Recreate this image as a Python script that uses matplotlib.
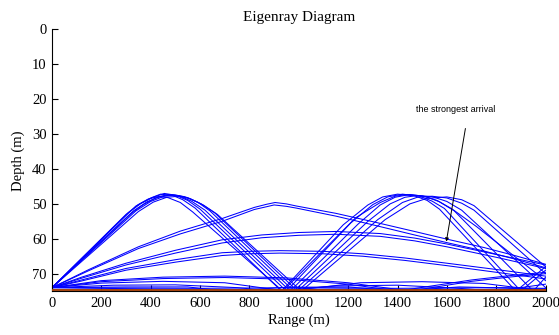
import matplotlib
matplotlib.use("Agg")
import matplotlib.pyplot as plt

# ---------------- data (range m, depth m) ----------------
title_text = "Eigenray Diagram"
x_label = "Range (m)"
y_label = "Depth (m)"
x_ticks = [0, 200, 400, 600, 800, 1000, 1200, 1400, 1600, 1800, 2000]
y_ticks = [0, 10, 20, 30, 40, 50, 60, 70]
bottom_depth = 75
max_range = 2000

# steep double-hill eigenrays (turning near 47-48 m, one bottom bounce near 1000 m)
ray_A1 = [(0, 74), (300, 53), (350, 50.2), (400, 48.3), (440, 47.2), (490, 47.6), (530, 48.8), (580, 51.2),
          (930, 75), (1180, 56), (1280, 50.3), (1340, 48), (1400, 47.2), (1470, 47.7), (1520, 49),
          (1570, 51.5), (1880, 75), (2000, 68)]
ray_A2 = [(0, 74), (310, 52.5), (360, 49.9), (410, 48.1), (455, 47.0), (500, 47.5), (550, 49), (600, 51.5),
          (950, 75), (1210, 55.5), (1300, 50.2), (1360, 48), (1420, 47.2), (1490, 47.8), (1540, 49.2),
          (1590, 51.3), (1900, 75), (2000, 69)]
ray_A3 = [(0, 74), (320, 52.8), (370, 50.2), (420, 48.3), (470, 47.3), (515, 47.7), (565, 49.2), (620, 51.8),
          (965, 75), (1240, 55.8), (1330, 50.3), (1390, 48.1), (1450, 47.3), (1515, 47.9), (1570, 49.4),
          (1630, 52), (1950, 75), (2000, 71)]
ray_A4 = [(0, 74), (330, 52), (385, 49.4), (440, 47.8), (490, 47.4), (535, 47.9), (590, 49.5), (640, 52),
          (980, 75), (1280, 55), (1370, 50), (1430, 48.1), (1480, 47.6), (1540, 47.9), (1600, 49.3),
          (1660, 51.8), (2000, 74)]
ray_A5 = [(0, 74), (340, 52), (400, 49.3), (455, 47.8), (505, 47.5), (550, 48.2), (605, 50), (660, 52.6),
          (995, 75), (1320, 54.5), (1420, 49.6), (1480, 48.1), (1540, 47.8), (1600, 48.3), (1660, 49.8),
          (1710, 51.8), (2000, 70)]
ray_A6 = [(0, 74), (350, 52.2), (410, 49.5), (465, 48.1), (515, 47.8), (560, 48.5), (615, 50.4), (670, 53),
          (1010, 75), (1350, 54.5), (1450, 50), (1520, 48.4), (1600, 48), (1660, 48.8), (1710, 50.5),
          (2000, 68)]
ray_A7 = [(0, 74), (290, 54), (340, 50.6), (390, 48.6), (430, 47.9), (470, 48.2), (520, 49.6), (570, 52.3),
          (935, 75), (1230, 54), (1330, 49.6), (1390, 47.8), (1440, 47.3), (1500, 47.7), (1560, 49),
          (1620, 51.4), (1720, 56.5), (2000, 72)]

# flatter single-arc eigenrays
ray_B1a = [(0, 74), (150, 68.8), (350, 62.3), (520, 57.8), (689, 54.2), (820, 51), (870, 50.1), (904, 49.6),
           (950, 50), (990, 50.6), (1150, 52.7), (1300, 55.1), (1463, 57.8), (1600, 60.1), (1750, 62.5),
           (1880, 64.9), (2000, 67.3)]
ray_B1b = [(0, 74), (150, 69.1), (350, 62.8), (520, 58.6), (689, 55), (820, 51.6), (870, 50.8), (900, 50.3),
           (950, 50.7), (990, 51.2), (1150, 53.5), (1300, 56), (1463, 58.8), (1600, 61.1), (1750, 63.5),
           (1880, 65.9), (2000, 68.3)]
ray_B2a = [(0, 74), (120, 71), (300, 67), (500, 63.3), (689, 60.3), (850, 58.9), (1000, 58.2), (1150, 57.9),
           (1330, 58.5), (1470, 59.8), (1600, 61.5), (1800, 64.5), (2000, 67.5)]
ray_B2b = [(0, 74), (120, 71.3), (300, 67.5), (500, 64.1), (689, 61.2), (850, 59.7), (1000, 59), (1150, 58.7),
           (1330, 59.3), (1470, 60.6), (1600, 62.3), (1800, 65.3), (2000, 68.5)]
ray_B3a = [(0, 74), (120, 71.8), (300, 68.5), (500, 66), (689, 64), (800, 63.6), (924, 63.4), (1100, 63.6),
           (1260, 64.3), (1430, 65.5), (1600, 67), (1800, 68.8), (2000, 70.7)]
ray_B3b = [(0, 74), (120, 72.1), (300, 69), (500, 66.7), (689, 64.8), (800, 64.3), (924, 64.1), (1100, 64.3),
           (1260, 65), (1430, 66.2), (1600, 67.7), (1800, 69.6), (2000, 71.5)]
ray_B4a = [(0, 74), (200, 72), (450, 71), (700, 70.7), (950, 71.2), (1200, 72.6), (1450, 75),
           (1700, 72.2), (1850, 71), (2000, 70)]
ray_B4b = [(0, 74), (200, 72.3), (450, 71.4), (700, 71.1), (950, 71.6), (1200, 73), (1400, 75),
           (1700, 71.8), (1850, 70.6), (2000, 69.6)]
ray_B5a = [(0, 74), (250, 73.3), (500, 73.2), (750, 74), (900, 75), (1150, 73.5), (1400, 73.3),
           (1650, 74.2), (1800, 75), (2000, 73)]
ray_B5b = [(0, 74), (300, 73.8), (550, 73.8), (700, 75), (950, 73.9), (1200, 73.8), (1400, 75),
           (1650, 73.8), (1900, 74.2), (2000, 75)]
ray_B5c = [(0, 74), (400, 74.4), (800, 74.6), (1200, 74.4), (1600, 74.6), (2000, 74.3)]
ray_B5d = [(0, 74), (300, 74.1), (600, 74.2), (1000, 74.0), (1400, 74.2), (1800, 74.0), (2000, 74.2)]
ray_B5e = [(0, 74), (200, 72.7), (450, 72.2), (700, 72.6), (950, 75), (1250, 72.6), (1500, 72.3),
           (1750, 72.8), (2000, 75)]

rays = [ray_A1, ray_A2, ray_A3, ray_A4, ray_A5, ray_A6, ray_A7,
        ray_B1a, ray_B1b, ray_B2a, ray_B2b, ray_B3a, ray_B3b,
        ray_B4a, ray_B4b, ray_B5a, ray_B5b, ray_B5c, ray_B5d, ray_B5e]

annot_text = "the strongest arrival"
annot_text_pos = (1637, 23)
annot_arrow_tail = (1677, 27.6)
annot_arrow_head = (1596, 61.6)

# ---------------- figure ----------------
fig = plt.figure(figsize=(5.59, 3.35), dpi=100)
ax = fig.add_axes([0.093, 0.131, 0.883, 0.781])

for ray in rays:
    xs = [p[0] for p in ray]
    ys = [p[1] for p in ray]
    ax.plot(xs, ys, color="#0000ff", lw=0.75, solid_joinstyle="round")

ax.plot([0, max_range], [bottom_depth - 0.25, bottom_depth - 0.25], color="#a0400a", lw=1.4, zorder=3)

ax.set_xlim(0, max_range)
ax.set_ylim(bottom_depth, 0)
ax.set_xticks(x_ticks)
ax.set_yticks(y_ticks)
serif = "Liberation Serif"
ax.set_xticklabels([str(t) for t in x_ticks], fontfamily=serif, fontsize=10.5)
ax.set_yticklabels([str(t) for t in y_ticks], fontfamily=serif, fontsize=10.5)
ax.tick_params(direction="in", length=4, width=0.8, pad=4)
for s in ["top", "right"]:
    ax.spines[s].set_visible(False)
for s in ["left", "bottom"]:
    ax.spines[s].set_linewidth(0.8)

ax.set_title(title_text, fontfamily=serif, fontsize=11, pad=6)
ax.set_xlabel(x_label, fontfamily=serif, fontsize=10.5, labelpad=3)
ax.set_ylabel(y_label, fontfamily=serif, fontsize=10.5, labelpad=5)

ax.text(annot_text_pos[0], annot_text_pos[1], annot_text, fontfamily="Liberation Sans",
        fontsize=6.5, ha="center", va="center")
ax.annotate("", xy=annot_arrow_head, xytext=annot_arrow_tail,
            arrowprops=dict(arrowstyle="-|>", color="black", lw=0.7, mutation_scale=5))

fig.savefig("out.png", dpi=100)
